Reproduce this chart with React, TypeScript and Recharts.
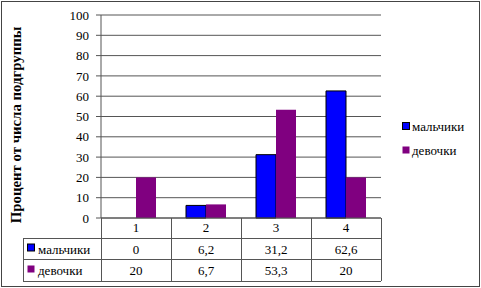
import React from 'react';
import { BarChart, Bar, XAxis, YAxis, CartesianGrid } from 'recharts';

const categories = ['1', '2', '3', '4'];
const boys = [0, 6.2, 31.2, 62.6];
const girls = [20, 6.7, 53.3, 20];
const yTicks = [0, 10, 20, 30, 40, 50, 60, 70, 80, 90, 100];
const seriesNames = ['мальчики', 'девочки'];
const seriesColors = ['#0000FF', '#800080'];
const yLabel = 'Процент от числа подгруппы';

const data = categories.map((c, i) => ({ cat: c, boys: boys[i], girls: girls[i] }));
const seriesValues = [boys, girls];

const W = 481;
const H = 288;
const PL = 101;
const PR = 381;
const PT = 15;
const PB = 218;
const FONT = 'Liberation Serif';
const LINE = '#555';

const fmt = (v: number) => String(v).replace('.', ',');

export default function App() {
  const n = categories.length;
  const colW = (PR - PL) / n;
  const rowY = [PB, 238, 259, 281];
  const tableLeft = 23;
  return (
    <div style={{ position: 'absolute', left: 0, top: 0, width: W, height: H, background: '#fff' }}>
      <BarChart
        width={W}
        height={H}
        data={data}
        margin={{ top: PT, right: W - PR, bottom: H - PB - 20, left: 0 }}
        barGap={0}
        barSize={20}
      >
        <CartesianGrid horizontal vertical={false} stroke={LINE} strokeDasharray="" />
        <XAxis
          dataKey="cat"
          height={20}
          tickLine={false}
          tickSize={0}
          tickMargin={5}
          axisLine={{ stroke: LINE }}
          tick={{ fill: '#000', fontSize: 13, fontFamily: FONT }}
          interval={0}
        />
        <YAxis
          width={PL}
          domain={[0, 100]}
          ticks={yTicks}
          interval={0}
          tickSize={5}
          tickMargin={7}
          axisLine={{ stroke: LINE }}
          tickLine={{ stroke: LINE }}
          tick={{ fill: '#000', fontSize: 13, fontFamily: FONT }}
        />
        <Bar dataKey="boys" fill={seriesColors[0]} stroke="#000" strokeWidth={1} isAnimationActive={false} />
        <Bar dataKey="girls" fill={seriesColors[1]} isAnimationActive={false} />
      </BarChart>
      <svg
        width={W}
        height={H}
        style={{ position: 'absolute', left: 0, top: 0, pointerEvents: 'none' }}
      >
        <rect x={1.5} y={1.5} width={W - 3} height={H - 3} fill="none" stroke="#444" strokeWidth={1} />
        <text
          x={0}
          y={0}
          transform={`translate(21, 125) rotate(-90)`}
          textAnchor="middle"
          fontSize={14.8}
          fontWeight="bold"
          fontFamily={FONT}
          fill="#000"
        >
          {yLabel}
        </text>
        {rowY.slice(1).map((y, i) => (
          <line key={'h' + i} x1={tableLeft} x2={PR} y1={y + 0.5} y2={y + 0.5} stroke={LINE} />
        ))}
        <line x1={tableLeft + 0.5} x2={tableLeft + 0.5} y1={rowY[1]} y2={rowY[3]} stroke={LINE} />
        {categories.map((_, i) => (
          <line key={'v' + i} x1={PL + i * colW + 0.5} x2={PL + i * colW + 0.5} y1={PB} y2={rowY[3]} stroke={LINE} />
        ))}
        <line x1={PR + 0.5} x2={PR + 0.5} y1={PB} y2={rowY[3]} stroke={LINE} />
        {seriesNames.map((name, r) => {
          const yc = (rowY[r + 1] + rowY[r + 2]) / 2;
          return (
            <g key={'row' + r}>
              <rect
                x={27.5}
                y={yc - 4.5}
                width={7}
                height={7}
                fill={seriesColors[r]}
                stroke={r === 0 ? '#000' : 'none'}
              />
              <text x={38} y={yc + 5} fontSize={13} fontFamily={FONT} fill="#000">
                {name}
              </text>
              {seriesValues[r].map((v, i) => (
                <text
                  key={i}
                  x={PL + (i + 0.5) * colW}
                  y={yc + 5}
                  fontSize={13}
                  fontFamily={FONT}
                  textAnchor="middle"
                  fill="#000"
                >
                  {fmt(v)}
                </text>
              ))}
            </g>
          );
        })}
        {seriesNames.map((name, r) => {
          const yc = 126 + r * 24;
          return (
            <g key={'lg' + r}>
              <rect
                x={402.5}
                y={yc - 3.5}
                width={7}
                height={7}
                fill={seriesColors[r]}
                stroke={r === 0 ? '#000' : 'none'}
              />
              <text x={412} y={yc + 5} fontSize={13} fontFamily={FONT} fill="#000">
                {name}
              </text>
            </g>
          );
        })}
      </svg>
    </div>
  );
}
